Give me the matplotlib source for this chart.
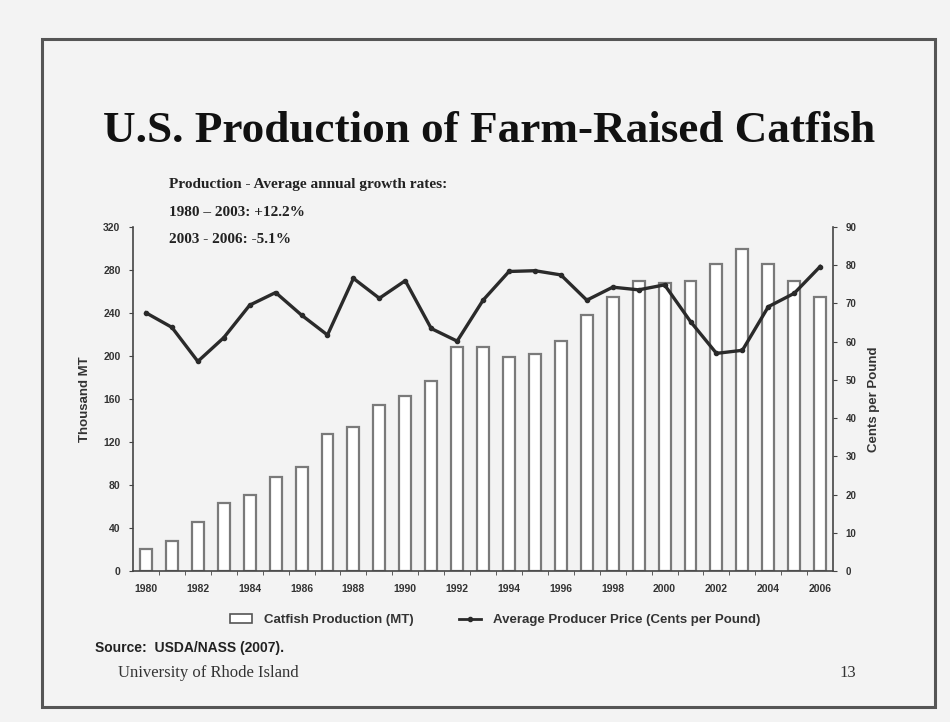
import numpy as np
import matplotlib.pyplot as plt
from matplotlib.patches import Rectangle
from matplotlib.lines import Line2D

# Catfish production (thousand metric tons) and average producer price (cents/lb)
years = list(range(1980, 2007))
production = [21, 28, 46, 63, 71, 87, 97, 127, 134, 154, 163, 177, 208,
              208, 199, 202, 214, 238, 255, 270, 268, 270, 285, 299, 285,
              270, 255]
price = [67.5, 63.7, 54.8, 61.0, 69.5, 72.8, 66.9, 61.7, 76.5, 71.3, 75.9,
         63.4, 60.1, 70.8, 78.3, 78.5, 77.4, 70.8, 74.2, 73.5, 74.8, 65.2,
         56.9, 57.7, 69.1, 72.6, 79.6]
year_labels = [str(y) if y % 2 == 0 else "" for y in years]

serif = "Liberation Serif"
sans = "Liberation Sans"
bg = "#f3f3f3"

fig = plt.figure(figsize=(9.5, 7.22), dpi=100, facecolor=bg)

# slide frame
fig.patches.append(Rectangle((42 / 950, 1 - 707 / 722), (935 - 42) / 950, (707 - 39) / 722,
                             transform=fig.transFigure, fill=False,
                             edgecolor="#555555", linewidth=2.2, zorder=0))

fig.text(0.515, 0.803, "U.S. Production of Farm-Raised Catfish", family=serif,
         weight="bold", fontsize=32.5, ha="center", va="baseline", color="#111111")

for i, line in enumerate(["Production - Average annual growth rates:",
                          "1980 \u2013 2003: +12.2%",
                          "2003 - 2006: -5.1%"]):
    fig.text(0.178, 0.739 - 0.038 * i, line, family=serif,
             weight="bold", fontsize=11, color="#222222")

ax = fig.add_axes([0.14, 0.209, 0.737, 0.477])
ax.set_facecolor("none")
x = np.arange(len(years))
bars = ax.bar(x, production, width=0.46, color="white", edgecolor="#7a7a7a",
              linewidth=1.6, zorder=2)
ax.set_xlim(-0.5, len(years) - 0.5)
ax.set_ylim(0, 320)
ax.set_yticks(np.arange(0, 321, 40))
ax.set_xticks(x)
ax.set_xticklabels(year_labels)
ax.set_xticks(np.arange(0.5, len(years) - 0.5, 1), minor=True)
ax.tick_params(axis="x", which="major", length=0, pad=9)
ax.tick_params(axis="x", which="minor", length=3, direction="out", color="#444444")
ax.tick_params(axis="y", length=3, direction="out", color="#444444", pad=6)
for lab in ax.get_xticklabels():
    lab.set_family(sans)
    lab.set_weight("bold")
    lab.set_fontsize(7.5)
    lab.set_color("#333333")
for lab in ax.get_yticklabels():
    lab.set_family(sans)
    lab.set_weight("bold")
    lab.set_fontsize(7.5)
    lab.set_color("#333333")
ax.spines["top"].set_visible(False)
ax.spines["right"].set_visible(False)
for s in ("left", "bottom"):
    ax.spines[s].set_color("#444444")
    ax.spines[s].set_linewidth(1.2)
ax.set_ylabel("Thousand MT", family=sans, weight="bold", fontsize=9.5,
              color="#333333", labelpad=9)

ax2 = ax.twinx()
ax2.plot(x, price, color="#2a2a2a", linewidth=2.4, marker="o", markersize=3,
         zorder=3)
ax2.set_ylim(0, 90)
ax2.set_yticks(np.arange(0, 91, 10))
ax2.tick_params(axis="y", length=3, direction="out", color="#444444", pad=6)
for lab in ax2.get_yticklabels():
    lab.set_family(sans)
    lab.set_weight("bold")
    lab.set_fontsize(7)
    lab.set_color("#333333")
for s in ("top", "left", "bottom"):
    ax2.spines[s].set_visible(False)
ax2.spines["right"].set_color("#444444")
ax2.spines["right"].set_linewidth(1.2)
ax2.set_ylabel("Cents per Pound", family=sans, weight="bold", fontsize=9.5,
               color="#333333", labelpad=8)

handles = [Rectangle((0, 0), 1, 1, facecolor="white", edgecolor="#555555", linewidth=1.2),
           Line2D([], [], color="#2a2a2a", linewidth=2, marker="o", markersize=3)]
leg = fig.legend(handles, ["Catfish Production (MT)",
                           "Average Producer Price (Cents per Pound)"],
                 loc="center", bbox_to_anchor=(0.521, 0.141), ncol=2, frameon=False,
                 columnspacing=3.4, handlelength=1.7, handletextpad=0.9,
                 prop={"family": sans, "weight": "bold", "size": 9.5})
for t in leg.get_texts():
    t.set_color("#333333")

fig.text(0.1, 0.102, "Source:  USDA/NASS (2007).", family=sans, weight="bold",
         fontsize=10, color="#222222", va="center")
fig.text(0.124, 0.068, "University of Rhode Island", family=serif,
         fontsize=12, color="#333333", va="center")
fig.text(0.884, 0.068, "13", family=serif, fontsize=12, color="#333333",
         va="center")

fig.savefig("out.png", dpi=100, facecolor=bg)
